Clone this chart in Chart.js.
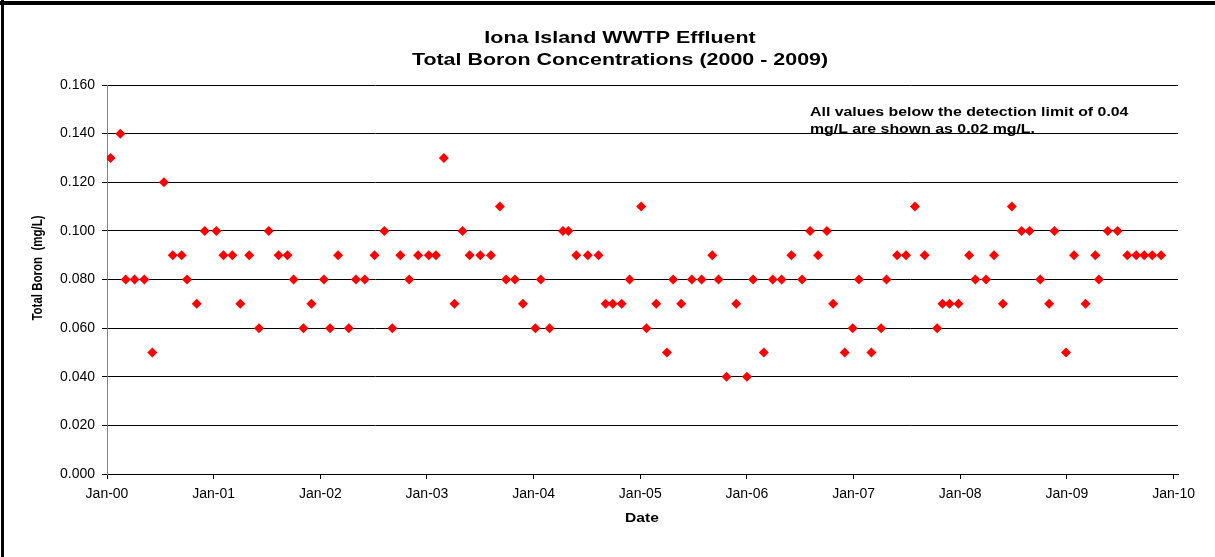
<!DOCTYPE html>
<html>
<head>
<meta charset="utf-8">
<script src="https://cdn.jsdelivr.net/npm/chart.js@4.4.1/dist/chart.umd.min.js"></script>
<style>
    body { margin: 0; background: #fff; }
    #wrap { width: 1215px; height: 557px; position: relative; }
</style>
</head>
<body>
<div id="wrap"><canvas id="boronChart"></canvas></div>
<script>
// sample dates as months since Jan 2000
const sampleMonths = [
    0.4, 1.5, 2.1, 3.1, 4.2, 5.1, 6.4, 7.4, 8.4, 9.0, 10.1, 11.0,
    12.3, 13.1, 14.1, 15.0, 16.0, 17.1, 18.2, 19.3, 20.3, 21.0, 22.1, 23.0,
    24.4, 25.1, 26.0, 27.2, 28.0, 29.0, 30.1, 31.2, 32.1, 33.0, 34.0, 35.0,
    36.2, 37.0, 37.9, 39.1, 40.0, 40.8, 42.0, 43.2, 44.2, 44.9, 45.9, 46.8,
    48.2, 48.8, 49.8, 51.3, 51.9, 52.8, 54.1, 55.3, 56.1, 56.9, 57.9, 58.8,
    60.1, 60.7, 61.8, 63.0, 63.7, 64.6, 65.8, 66.9, 68.1, 68.8, 69.7, 70.8,
    72.0, 72.7, 73.9, 74.9, 75.9, 77.0, 78.2, 79.1, 80.0, 81.0, 81.7, 83.0,
    83.9, 84.6, 86.0, 87.1, 87.7, 88.9, 89.9, 90.9, 92.0, 93.4, 94.0, 94.8,
    95.8, 97.0, 97.7, 98.9, 99.8, 100.8, 101.8, 102.9, 103.8, 105.0, 106.0, 106.6,
    107.9, 108.8, 110.1, 111.2, 111.6, 112.6, 113.7, 114.8, 115.8, 116.7, 117.6, 118.6
];

const boronValues = [
    0.13, 0.14, 0.08, 0.08, 0.08, 0.05, 0.12, 0.09, 0.09, 0.08, 0.07, 0.10,
    0.10, 0.09, 0.09, 0.07, 0.09, 0.06, 0.10, 0.09, 0.09, 0.08, 0.06, 0.07,
    0.08, 0.06, 0.09, 0.06, 0.08, 0.08, 0.09, 0.10, 0.06, 0.09, 0.08, 0.09,
    0.09, 0.09, 0.13, 0.07, 0.10, 0.09, 0.09, 0.09, 0.11, 0.08, 0.08, 0.07,
    0.06, 0.08, 0.06, 0.10, 0.10, 0.09, 0.09, 0.09, 0.07, 0.07, 0.07, 0.08,
    0.11, 0.06, 0.07, 0.05, 0.08, 0.07, 0.08, 0.08, 0.09, 0.08, 0.04, 0.07,
    0.04, 0.08, 0.05, 0.08, 0.08, 0.09, 0.08, 0.10, 0.09, 0.10, 0.07, 0.05,
    0.06, 0.08, 0.05, 0.06, 0.08, 0.09, 0.09, 0.11, 0.09, 0.06, 0.07, 0.07,
    0.07, 0.09, 0.08, 0.08, 0.09, 0.07, 0.11, 0.10, 0.10, 0.08, 0.07, 0.10,
    0.05, 0.09, 0.07, 0.09, 0.08, 0.10, 0.10, 0.09, 0.09, 0.09, 0.09, 0.09
];

const yearLabels = ["Jan-00", "Jan-01", "Jan-02", "Jan-03", "Jan-04", "Jan-05",
    "Jan-06", "Jan-07", "Jan-08", "Jan-09", "Jan-10"];

const titleLines = ["Iona Island WWTP Effluent", "Total Boron Concentrations (2000 - 2009)"];
const noteLines = ["All values below the detection limit of 0.04", "mg/L are shown as 0.02 mg/L."];
const xTitle = "Date";
const yTitle = "Total Boron  (mg/L)";

const points = sampleMonths.map((m, i) => ({ x: m, y: boronValues[i] }));

const FONT = "'Liberation Sans', Arial, sans-serif";

// the original picture is a little stretched sideways, so its text is too
function wideText(c, text, x, y, align, sx, rot) {
    c.save();
    c.translate(x, y);
    c.scale(sx, 1);
    if (rot) c.rotate(rot);
    c.textAlign = align;
    c.fillText(text, 0, 0);
    c.restore();
}

// frame + titles + note
const textPlugin = {
    id: "texts",
    beforeDraw(chart) {
        const c = chart.ctx;
        c.save();
        c.fillStyle = "#fff";
        c.fillRect(0, 0, chart.width, chart.height);
        c.fillStyle = "#000";
        c.fillRect(0, 1, chart.width, 4);
        c.fillRect(1, 0, 3, chart.height);
        c.restore();
    },
    afterDraw(chart) {
        const c = chart.ctx;
        const area = chart.chartArea;
        c.save();
        c.fillStyle = "#000";
        c.textBaseline = "alphabetic";

        c.font = "bold 17px " + FONT;
        wideText(c, titleLines[0], 620, 43, "center", 1.26);
        wideText(c, titleLines[1], 620, 65, "center", 1.26);

        c.font = "bold 12.5px " + FONT;
        wideText(c, noteLines[0], area.left + 703, 116, "left", 1.27);
        wideText(c, noteLines[1], area.left + 703, 133, "left", 1.27);

        c.font = "bold 12px " + FONT;
        wideText(c, xTitle, 642, 522, "center", 1.3);

        c.font = "bold 11.5px " + FONT;
        wideText(c, yTitle, 42, 268, "center", 1.3, -Math.PI / 2);
        c.restore();
    },
};

const ctx = document.getElementById("boronChart");

new Chart(ctx, {
    type: "scatter",
    data: {
        datasets: [
            {
                label: "Total Boron",
                data: points,
                pointStyle: "rectRot",
                radius: 5,
                hoverRadius: 5,
                backgroundColor: "#ff0000",
                borderColor: "#ff0000",
                borderWidth: 0,
            },
        ],
    },
    options: {
        responsive: true,
        maintainAspectRatio: false,
        animation: false,
        layout: {
            padding: { left: 0, right: 37, top: 85, bottom: 0 },
        },
        plugins: {
            legend: { display: false },
            tooltip: { enabled: false },
            title: { display: false },
        },
        scales: {
            x: {
                type: "linear",
                min: 0,
                max: 120.5,
                afterFit(scale) {
                    scale.height = 83;
                },
                border: { color: "#000", width: 1 },
                grid: {
                    drawOnChartArea: false,
                    drawTicks: true,
                    tickLength: 5,
                    color: "#000",
                },
                ticks: {
                    stepSize: 12,
                    includeBounds: false,
                    maxRotation: 0,
                    autoSkip: false,
                    padding: 7,
                    color: "#000",
                    font: { family: FONT, size: 14 },
                    callback: function (value) {
                        return yearLabels[value / 12];
                    },
                },
            },
            y: {
                min: 0,
                max: 0.16,
                afterFit(scale) {
                    scale.width = 107;
                },
                border: { color: "#808080", width: 1 },
                grid: {
                    color: "#000",
                    lineWidth: 1,
                    tickLength: 5,
                },
                ticks: {
                    stepSize: 0.02,
                    padding: 7,
                    color: "#000",
                    font: { family: FONT, size: 14 },
                    callback: function (value) {
                        return value.toFixed(3);
                    },
                },
            },
        },
    },
    plugins: [textPlugin],
});
</script>
</body>
</html>
